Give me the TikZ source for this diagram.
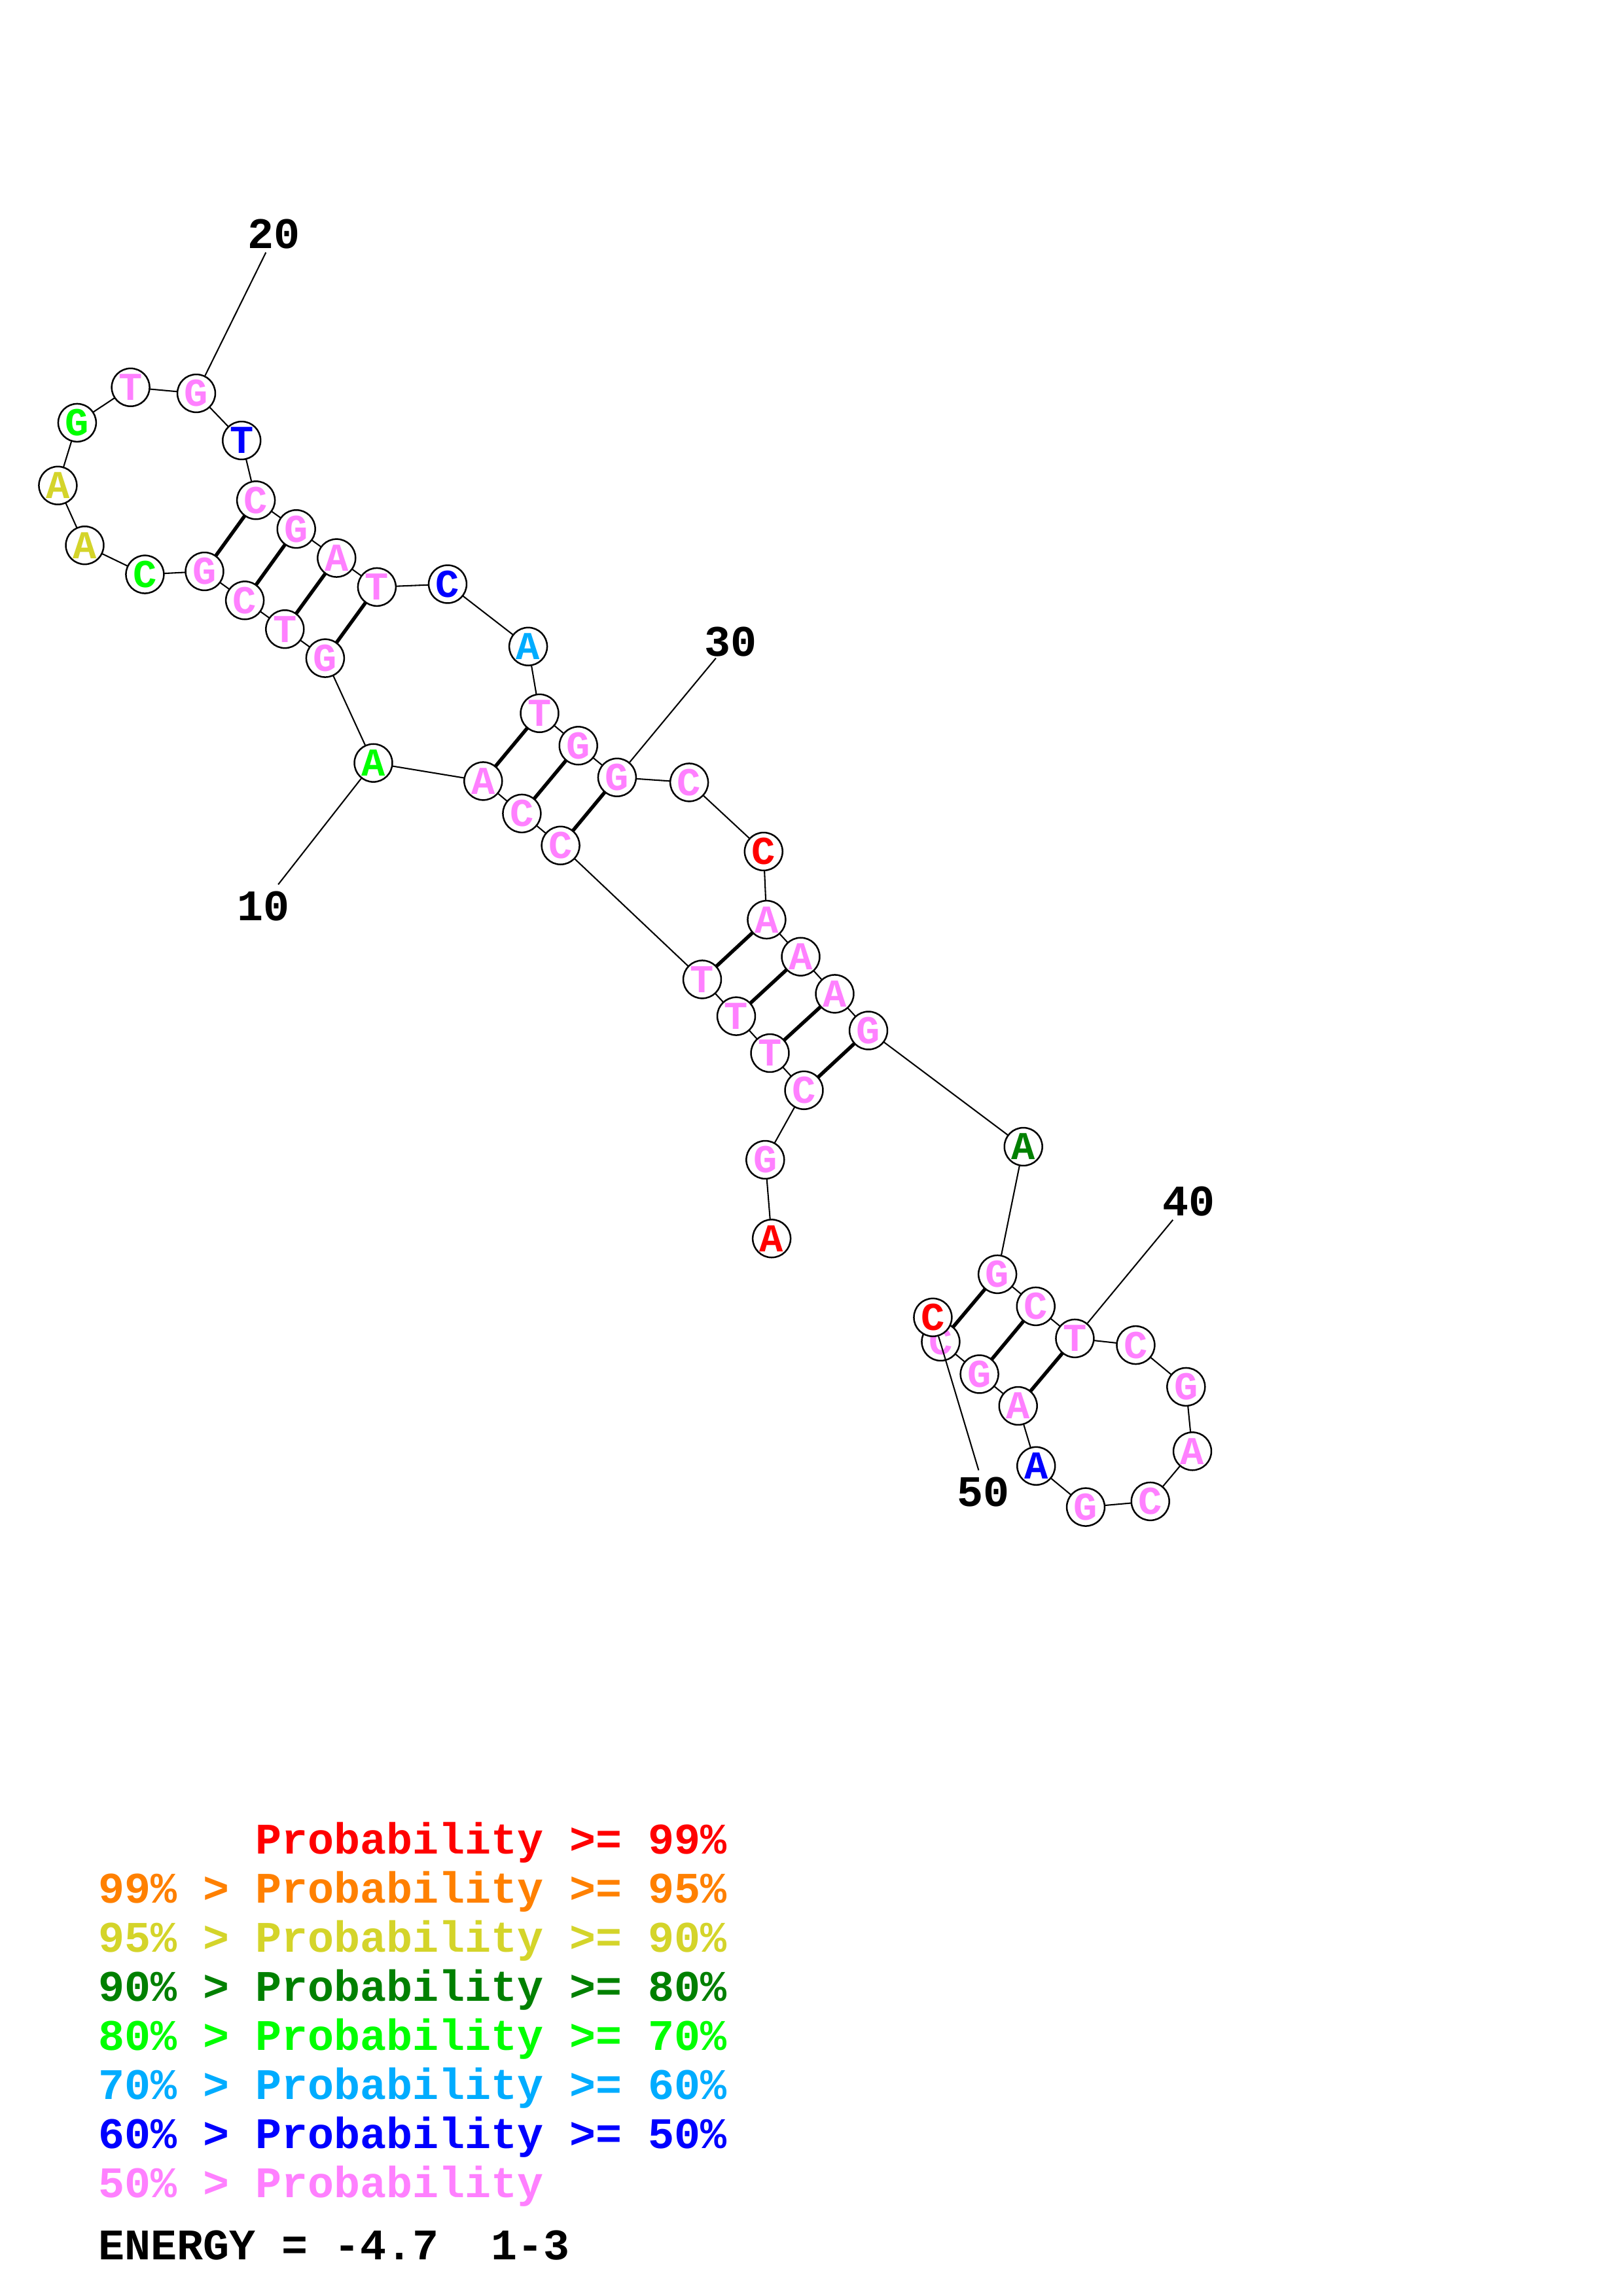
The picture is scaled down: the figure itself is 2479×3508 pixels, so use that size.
\documentclass[tikz,border=0pt]{standalone}
\usepackage{fontspec}
\newfontfamily\monob{Liberation Mono}
\usetikzlibrary{backgrounds}
\definecolor{cRed}{RGB}{255,0,0}
\definecolor{cOrange}{RGB}{255,128,0}
\definecolor{cYellow}{RGB}{212,212,42}
\definecolor{cDkGreen}{RGB}{0,128,0}
\definecolor{cGreen}{RGB}{0,255,0}
\definecolor{cCyan}{RGB}{0,172,255}
\definecolor{cBlue}{RGB}{0,0,255}
\definecolor{cPink}{RGB}{255,128,255}
\tikzset{
  base/.style={circle, draw=black, line width=0.6pt, fill=white, minimum size=13.9pt, inner sep=0pt,
    font=\monob\bfseries\fontsize{14.5}{14.5}\selectfont},
  bb/.style={line width=0.5pt},
  bp/.style={line width=1.3pt},
  lbl/.style={font=\monob\bfseries\fontsize{16}{16}\selectfont, inner sep=0pt},
  leg/.style={font=\monob\bfseries\fontsize{16}{16}\selectfont, inner sep=0pt, anchor=base west}
}
\begin{document}
\begin{tikzpicture}[x=0.24pt, y=-0.24pt]
\useasboundingbox (0,0) rectangle (2479,3508);
% nucleotides
\node[base, text=cRed]     (n1)  at (1179.1,1892.3) {A};
\node[base, text=cPink]    (n2)  at (1169.3,1772.0) {G};
\node[base, text=cPink]    (n3)  at (1228.5,1665.8) {C};
\node[base, text=cPink]    (n4)  at (1176.5,1609.0) {T};
\node[base, text=cPink]    (n5)  at (1125.0,1552.6) {T};
\node[base, text=cPink]    (n6)  at (1073.0,1496.4) {T};
\node[base, text=cPink]    (n7)  at (856.6,1291.8) {C};
\node[base, text=cPink]    (n8)  at (797.4,1242.9) {C};
\node[base, text=cPink]    (n9)  at (738.3,1193.4) {A};
\node[base, text=cGreen]   (n10) at (570.5,1165.7) {A};
\node[base, text=cPink]    (n11) at (496.9,1005.6) {G};
\node[base, text=cPink]    (n12) at (435.3,961.2) {T};
\node[base, text=cPink]    (n13) at (374.1,917.3) {C};
\node[base, text=cPink]    (n14) at (312.5,873.0) {G};
\node[base, text=cGreen]   (n15) at (221.4,877.6) {C};
\node[base, text=cYellow]  (n16) at (129.5,833.2) {A};
\node[base, text=cYellow]  (n17) at (88.4,741.8) {A};
\node[base, text=cGreen]   (n18) at (117.9,645.9) {G};
\node[base, text=cPink]    (n19) at (199.6,591.8) {T};
\node[base, text=cPink]    (n20) at (300.0,601.0) {G};
\node[base, text=cBlue]    (n21) at (369.2,673.0) {T};
\node[base, text=cPink]    (n22) at (391.1,764.3) {C};
\node[base, text=cPink]    (n23) at (452.7,808.2) {G};
\node[base, text=cPink]    (n24) at (514.3,852.6) {A};
\node[base, text=cPink]    (n25) at (575.9,896.9) {T};
\node[base, text=cBlue]    (n26) at (684.0,892.5) {C};
\node[base, text=cCyan]    (n27) at (807.1,987.8) {A};
\node[base, text=cPink]    (n28) at (824.5,1089.8) {T};
\node[base, text=cPink]    (n29) at (883.7,1139.3) {G};
\node[base, text=cPink]    (n30) at (942.9,1187.8) {G};
\node[base, text=cPink]    (n31) at (1053.1,1195.4) {C};
\node[base, text=cRed]     (n32) at (1166.8,1301.0) {C};
\node[base, text=cPink]    (n33) at (1171.4,1405.1) {A};
\node[base, text=cPink]    (n34) at (1223.5,1461.7) {A};
\node[base, text=cPink]    (n35) at (1275.5,1518.4) {A};
\node[base, text=cPink]    (n36) at (1327.0,1574.5) {G};
\node[base, text=cDkGreen] (n37) at (1563.7,1752.0) {A};
\node[base, text=cPink]    (n38) at (1524.1,1946.9) {G};
\node[base, text=cPink]    (n39) at (1582.7,1995.9) {C};
\node[base, text=cPink]    (n40) at (1642.4,2044.9) {T};
\node[base, text=cPink]    (n41) at (1735.4,2055.1) {C};
\node[base, text=cPink]    (n42) at (1812.3,2118.9) {G};
\node[base, text=cPink]    (n43) at (1822.0,2217.3) {A};
\node[base, text=cPink]    (n44) at (1757.7,2293.9) {C};
\node[base, text=cPink]    (n45) at (1659.0,2302.6) {G};
\node[base, text=cBlue]    (n46) at (1583.2,2239.8) {A};
\node[base, text=cPink]    (n47) at (1555.7,2148.0) {A};
\node[base, text=cPink]    (n48) at (1496.6,2099.5) {G};
\node[base, text=cPink]    (n49) at (1437.4,2050.0) {C};
\node[base, text=cRed]     (n50) at (1425.4,2012.8) {C};
% backbone and pairs
\begin{scope}[on background layer]
\fill[white] (0,0) rectangle (2479,3508);
\draw[bb] (n1.center)
  \foreach \i in {2,...,50} { -- (n\i.center) };
\foreach \a/\b in {22/14,23/13,24/12,25/11,28/9,29/8,30/7,33/6,34/5,35/4,36/3,38/49,39/48,40/47}
  \draw[bp] (n\a.center) -- (n\b.center);
\end{scope}
% number labels
\node[lbl] (t10) at (402.7,1385.0) {10};
\node[lbl] (t20) at (418.8,357.1) {20};
\node[lbl] (t30) at (1116.3,980.1) {30};
\node[lbl] (t40) at (1816.3,1835.7) {40};
\node[lbl] (t50) at (1502.9,2279.6) {50};
\coordinate (e10) at (425.1,1351.4);
\coordinate (e20) at (406.3,385.7);
\coordinate (e30) at (1093.9,1005.6);
\coordinate (e40) at (1792.2,1863.8);
\coordinate (e50) at (1495.4,2246.4);
\foreach \k in {10,20,30,40,50}
  \draw[bb] (e\k) -- (n\k);
% legend
\node[leg, text=cRed]     (g1) at (390.1,2832.7) {Probability >= 99\%};
\node[leg, text=cOrange]  (g2) at (150,2907.7) {99\% > Probability >= 95\%};
\node[leg, text=cYellow]  (g3) at (150,2982.7) {95\% > Probability >= 90\%};
\node[leg, text=cDkGreen] (g4) at (150,3057.7) {90\% > Probability >= 80\%};
\node[leg, text=cGreen]   (g5) at (150,3132.7) {80\% > Probability >= 70\%};
\node[leg, text=cCyan]    (g6) at (150,3207.7) {70\% > Probability >= 60\%};
\node[leg, text=cBlue]    (g7) at (150,3282.7) {60\% > Probability >= 50\%};
\node[leg, text=cPink]    (g8) at (150,3357.7) {50\% > Probability};
\node[leg, text=black]    (g9) at (150,3452.6) {ENERGY = -4.7~~1-3};
\end{tikzpicture}
\end{document}
